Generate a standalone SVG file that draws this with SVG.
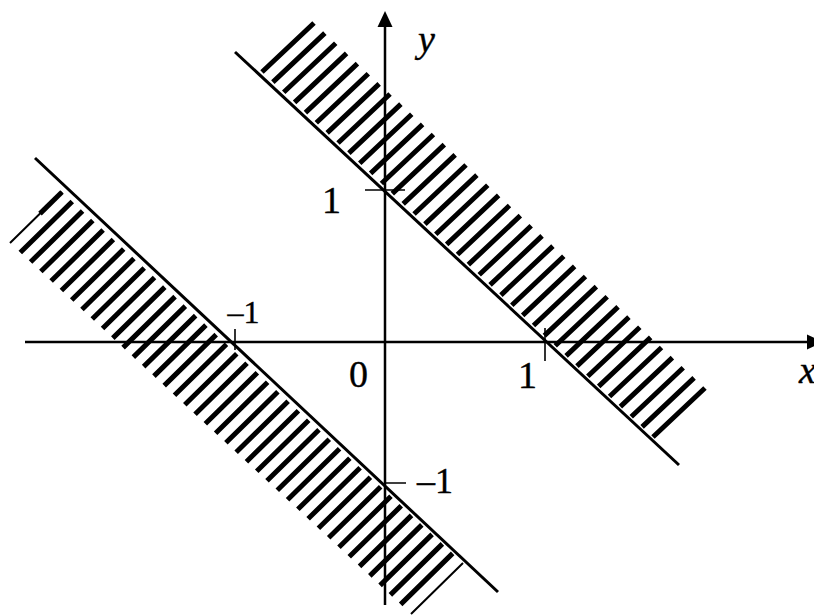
<svg xmlns="http://www.w3.org/2000/svg" width="814" height="615" viewBox="0 0 814 615">
<style>
.axis{stroke:#000;stroke-width:2.5;fill:none}
.bound{stroke:#000;stroke-width:3;fill:none}
.tick{stroke:#000;stroke-width:1.6;fill:none}
.hatch{stroke:#000;stroke-width:5;fill:none}
.thin{stroke:#000;stroke-width:2;fill:none}
.lbl{font-family:"Liberation Serif","Times New Roman",serif;fill:#000;stroke:#000;stroke-width:0.4;text-anchor:middle}
.it{font-style:italic;text-anchor:start}
</style>
<defs>
<marker id="arr" markerUnits="userSpaceOnUse" markerWidth="17" markerHeight="16" refX="0" refY="7.5" orient="auto" overflow="visible">
<path d="M0,0 L16,7.5 L0,15 z" fill="#000"/>
</marker>
</defs>
<rect width="814" height="615" fill="#fff"/>
<g id="hatch-upper">
<path class="hatch" d="M262 72 l52 -49 m-41.14 59.14 l52 -49 m-41.14 59.14 l52 -49 m-41.14 59.14 l52 -49 m-41.14 59.14 l52 -49 m-41.14 59.14 l52 -49 m-41.14 59.14 l52 -49 m-41.14 59.14 l52 -49 m-41.14 59.14 l52 -49 m-41.14 59.14 l52 -49 m-41.14 59.14 l52 -49 m-41.14 59.14 l52 -49 m-41.14 59.14 l52 -49 m-41.14 59.14 l52 -49 m-41.14 59.14 l52 -49 m-41.14 59.14 l52 -49 m-41.14 59.14 l52 -49 m-41.14 59.14 l52 -49 m-41.14 59.14 l52 -49 m-41.14 59.14 l52 -49 m-41.14 59.14 l52 -49 m-41.14 59.14 l52 -49 m-41.14 59.14 l52 -49 m-41.14 59.14 l52 -49 m-41.14 59.14 l52 -49 m-41.14 59.14 l52 -49 m-41.14 59.14 l52 -49 m-41.14 59.14 l52 -49 m-41.14 59.14 l52 -49 m-41.14 59.14 l52 -49 m-41.14 59.14 l52 -49 m-41.14 59.14 l52 -49 m-41.14 59.14 l52 -49 m-41.14 59.14 l52 -49 m-41.14 59.14 l52 -49 m-41.14 59.14 l52 -49 m-41.14 59.14 l52 -49"/>
</g>
<g id="hatch-lower">
<path class="thin" d="M62 192 l-52 51 M463 563 l-52 51"/>
<path class="hatch" d="M62 192 l-22 21.6"/>
<path class="hatch" d="M72.28 201.51 l-52 51 m62.28 -41.49 l-52 51 m62.28 -41.49 l-52 51 m62.28 -41.49 l-52 51 m62.28 -41.49 l-52 51 m62.28 -41.49 l-52 51 m62.28 -41.49 l-52 51 m62.28 -41.49 l-52 51 m62.28 -41.49 l-52 51 m62.28 -41.49 l-52 51 m62.28 -41.49 l-52 51 m62.28 -41.49 l-52 51 m62.28 -41.49 l-52 51 m62.28 -41.49 l-52 51 m62.28 -41.49 l-52 51 m62.28 -41.49 l-52 51 m62.28 -41.49 l-52 51 m62.28 -41.49 l-52 51 m62.28 -41.49 l-52 51 m62.28 -41.49 l-52 51 m62.28 -41.49 l-52 51 m62.28 -41.49 l-52 51 m62.28 -41.49 l-52 51 m62.28 -41.49 l-52 51 m62.28 -41.49 l-52 51 m62.28 -41.49 l-52 51 m62.28 -41.49 l-52 51 m62.28 -41.49 l-52 51 m62.28 -41.49 l-52 51 m62.28 -41.49 l-52 51 m62.28 -41.49 l-52 51 m62.28 -41.49 l-52 51 m62.28 -41.49 l-52 51 m62.28 -41.49 l-52 51 m62.28 -41.49 l-52 51 m62.28 -41.49 l-52 51 m62.28 -41.49 l-52 51 m62.28 -41.49 l-52 51"/>
</g>
<g id="connectors">
<line id="x-axis" class="axis" x1="25" y1="342" x2="807" y2="342" marker-end="url(#arr)"/>
<line id="y-axis" class="axis" x1="385" y1="605" x2="385" y2="27" marker-end="url(#arr)"/>
<line id="line-upper" class="bound" x1="235" y1="52" x2="679" y2="465"/>
<line id="line-lower" class="bound" x1="35" y1="158" x2="498" y2="592"/>
<path class="tick" d="M365 190 H405 M385 483 H406 M545 328 V361 M235 329 V350"/>
</g>
<g id="labels">
<text class="lbl it" x="418" y="52" font-size="38">y</text>
<text class="lbl it" x="799" y="383" font-size="38">x</text>
<text class="lbl" x="331.5" y="213" font-size="38">1</text>
<text class="lbl" x="358.5" y="387" font-size="38">0</text>
<text class="lbl" x="527.5" y="388" font-size="38">1</text>
<text class="lbl" x="243.5" y="323" font-size="32">–1</text>
<text class="lbl" x="435" y="493" font-size="36">–1</text>
</g>
</svg>
